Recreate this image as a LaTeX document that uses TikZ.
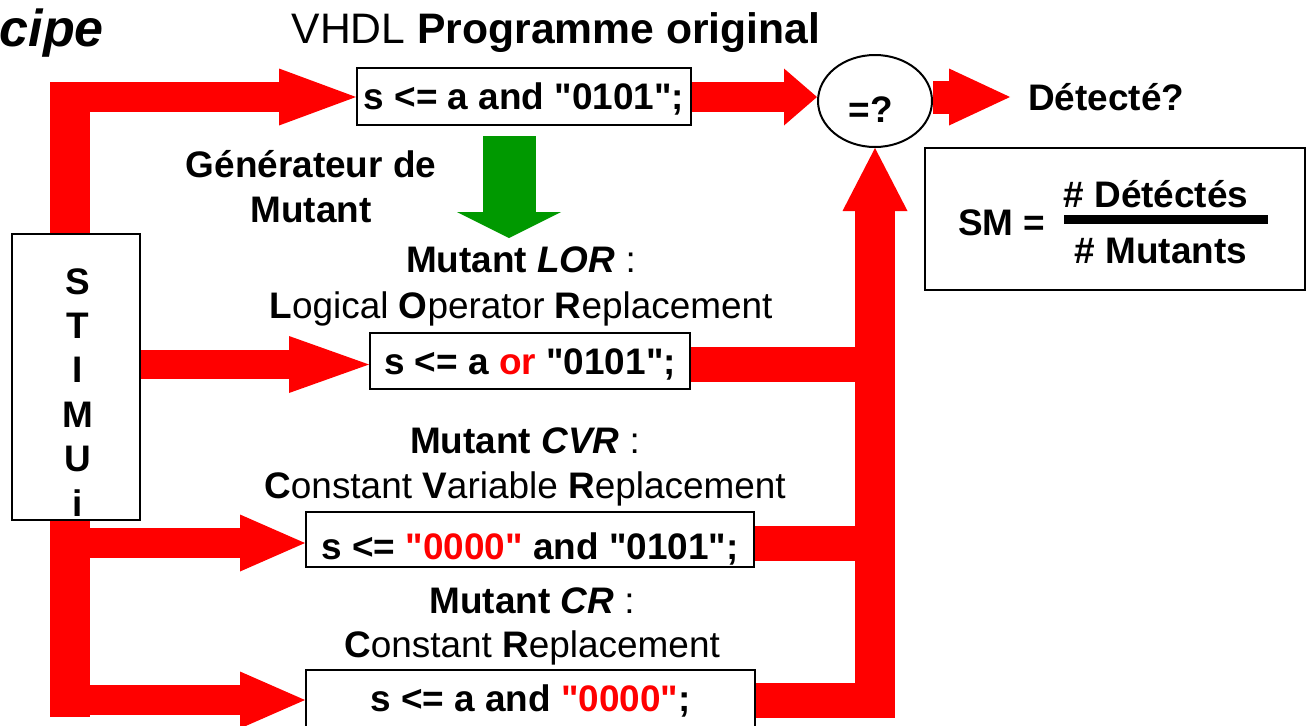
\documentclass[tikz,border=0pt]{standalone}
\usepackage{fontspec}
\setmainfont{Liberation Sans}[Ligatures=TeXOff]
\usetikzlibrary{arrows.meta,shapes.geometric}
\definecolor{rd}{RGB}{255,0,0}
\definecolor{gr}{RGB}{0,153,0}
\newcommand{\qq}{\symbol{34}}
\begin{document}
\begin{tikzpicture}[x=0.75pt,y=-0.75pt,
  t/.style={inner sep=0pt, font=\fontsize{27.7}{34}\selectfont},
  bt/.style={inner sep=0pt, font=\fontsize{27.7}{34}\selectfont\bfseries},
  codebox/.style={draw, line width=1.5pt, fill=white, inner sep=0pt, bt, text depth=0pt, text height=20.2pt},
  rarrow/.style n args={3}{draw=rd, line width=#1, -{Triangle[length=#2, width=#3, line width=0pt]}},
  rbar/.style={draw=rd, line width=#1},
  garrow/.style={draw=gr, line width=39.75pt, -{Triangle[length=19.5pt, width=78pt, line width=0pt]}}
]
\useasboundingbox (0,0) rectangle (1307,725);

% titles
\node[anchor=base east, inner sep=0pt, font=\fontsize{39}{44}\selectfont\bfseries\itshape] (title) at (104,46) {cipe};
\node[anchor=base, inner sep=0pt, font=\fontsize{32}{38}\selectfont] (vhdl) at (556,43) {VHDL \textbf{Programme original}};

% boxes
\node[codebox, minimum width=250.5pt, minimum height=42.75pt] (box1) at (524,96.5) {s <= a and \qq0101\qq;};
\node[draw, ellipse, line width=1.5pt, minimum width=85.5pt, minimum height=69pt, inner sep=0pt] (eq) at (875,101) {};
\node[bt, anchor=base] (eqt) at (871,122) {=?};
\node[bt, anchor=base west] (det) at (1028,110) {Détecté?};

\node[draw, line width=1.5pt, minimum width=285pt, minimum height=106.5pt, inner sep=0pt] (sm) at (1115,219) {};
\node[bt, anchor=base west] (smt) at (958,235) {SM =};
\node[bt, anchor=base] (num) at (1156,207) {\# Détéctés};
\node[bt, anchor=base] (den) at (1161,263) {\# Mutants};
\draw[line width=6.75pt] (1064,219.5) -- (1268,219.5);

\node[bt, anchor=base] (gen1) at (311,177) {Générateur de};
\node[bt, anchor=base] (gen2) at (311,222) {Mutant};

\node[t, anchor=base] (lorl1) at (521,272) {\textbf{Mutant \textit{LOR}} :};
\node[t, anchor=base] (lorl2) at (521,318) {\textbf{L}ogical \textbf{O}perator \textbf{R}eplacement};
\node[codebox, minimum width=240pt, minimum height=42pt] (lor) at (530,361) {s <= a \textcolor{rd}{or} \qq0101\qq;};

\node[t, anchor=base] (cvrl1) at (525,453) {\textbf{Mutant \textit{CVR}} :};
\node[t, anchor=base] (cvrl2) at (525,498) {\textbf{C}onstant \textbf{V}ariable \textbf{R}eplacement};
\node[codebox, minimum width=336pt, minimum height=41.25pt, text height=30.7pt] (cvr) at (530,539.5) {s <= \textcolor{rd}{\qq0000\qq} and \qq0101\qq;};

\node[t, anchor=base] (crl1) at (532,613) {\textbf{Mutant \textit{CR}} :};
\node[t, anchor=base] (crl2) at (532,657) {\textbf{C}onstant \textbf{R}eplacement};
\node[codebox, minimum width=336.75pt, minimum height=42.75pt] (cr) at (530.5,698.5) {s <= a and \textcolor{rd}{\qq0000\qq};};

\node[draw, line width=1.5pt, minimum width=96pt, minimum height=214.5pt, inner sep=0pt] (stim) at (76,377) {};
\node[anchor=base, align=center, inner sep=0pt, font=\fontsize{27.7}{33.3}\selectfont\bfseries] (stimt) at (78,516) {S\\T\\I\\M\\U\\i};

% coordinates
\coordinate (vtop) at (70,82);
\coordinate (vbot) at (70,717);
\coordinate (s1) at (50,97);
\coordinate (s2) at (50,543);
\coordinate (s3) at (50,700);
\coordinate (yl) at (0,364.5);
\coordinate (dt) at (1010,97);
\coordinate (rx) at (895,0);
\coordinate (rbot) at (875,717);

% connectors
\draw[rbar=30pt] (stim.north -| vtop) -- (vtop);
\draw[rbar=30pt] (stim.south -| vbot) -- (vbot);
\draw[rarrow={22.5pt}{57.75pt}{42.75pt}] (s1) -- (s1 -| box1.west);
\draw[rarrow={22.5pt}{24.75pt}{42.75pt}] (box1.east |- s1) -- (eq.west |- s1);
\draw[rarrow={24.75pt}{45.75pt}{42.75pt}] (eq.east |- dt) -- (dt);
\draw[rarrow={22pt}{60pt}{42.75pt}] (stim.east |- yl) -- (lor.west |- yl);
\draw[rarrow={22.5pt}{48.75pt}{42.75pt}] (s2) -- (s2 -| cvr.west);
\draw[rarrow={22.5pt}{48.75pt}{42.75pt}] (s3) -- (s3 -| cr.west);
\draw[rbar=26.25pt] (lor.east |- yl) -- (rx |- yl);
\draw[rbar=26.25pt] (cvr.east |- s2) -- (rx |- s2);
\draw[rbar=26.25pt] (cr.east |- s3) -- (rx |- s3);
\draw[rarrow={30pt}{47.25pt}{48.75pt}] (rbot) -- (eq.south);
\draw[garrow] ([shift={(-15,10)}]box1.south) -- ([shift={(-15,112)}]box1.south);
\end{tikzpicture}
\end{document}
